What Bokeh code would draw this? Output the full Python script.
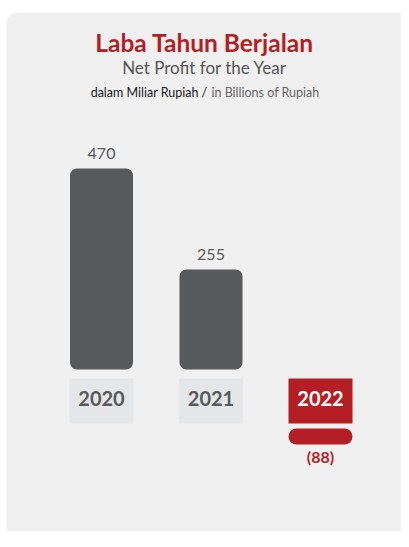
from bokeh.plotting import figure
from bokeh.models import Range1d, BoxAnnotation, Label, ColumnDataSource
from bokeh.core.properties import value
from bokeh.embed import file_html
from bokeh.resources import INLINE

# ---- data ----
YEARS = ["2020", "2021", "2022"]
PROFIT = [470, 255, -88]
TITLE = "Laba Tahun Berjalan"
SUBTITLE = "Net Profit for the Year"
UNIT_ID = "dalam Miliar Rupiah /"
UNIT_EN = "in Billions of Rupiah"

# ---- layout / style ----
W, H = 401, 531
SLOT_PX = 109.5          # px between category centres
FIRST_PX = 101           # px of first centre from left edge
Y_PX = 0.4698            # px per value unit
BAR_FLOOR = 42           # value where the bars sit
FLOOR_FROM_TOP = 369     # px of the floor from figure top
U = 1.0 / Y_PX           # value units per px
BAR_W = 63 / SLOT_PX

FONT = "Lato"
RED = "#b31f24"
DARK = "#58595b"
BOXGRAY = "#e5e6e8"
PANEL = "#f0f0f0"

x0 = -FIRST_PX / SLOT_PX
y0 = BAR_FLOOR - (H - FLOOR_FROM_TOP) * U

p = figure(width=W, height=H, output_backend="svg", toolbar_location=None,
           x_range=Range1d(x0, x0 + W / SLOT_PX),
           y_range=Range1d(y0, y0 + H * U),
           min_border=0, outline_line_color=None,
           background_fill_color="white", border_fill_color="white")
p.axis.visible = False
p.grid.visible = False


def ypx(px_below_floor):
    return BAR_FLOOR - px_below_floor * U


# panel
p.add_layout(BoxAnnotation(left=x0 + 6 / SLOT_PX, right=x0 + (W + 30) / SLOT_PX,
                           top=ypx(-(FLOOR_FROM_TOP - 12)), bottom=y0 - 20,
                           fill_color=PANEL, fill_alpha=1, line_color=None,
                           border_radius=10, level="underlay"))

pos = list(range(len(YEARS)))
pos_idx = [i for i, v in enumerate(PROFIT) if v >= 0]
neg_idx = [i for i, v in enumerate(PROFIT) if v < 0]

bars = ColumnDataSource(dict(x=[pos[i] for i in pos_idx],
                             top=[PROFIT[i] for i in pos_idx],
                             lab=[f"{PROFIT[i]:,}" for i in pos_idx]))
p.vbar(x="x", top="top", bottom=BAR_FLOOR, width=BAR_W, source=bars,
       fill_color=DARK, line_color=None, border_radius=7)
p.text(x="x", y="top", text="lab", source=bars, y_offset=-15,
       text_align="center", text_baseline="alphabetic",
       text_font=value(FONT), text_font_size="16px", text_color=DARK)

# year boxes
box_colors = [RED if v < 0 else BOXGRAY for v in PROFIT]
txt_colors = ["white" if v < 0 else DARK for v in PROFIT]
yrs = ColumnDataSource(dict(x=pos, yr=YEARS, fc=box_colors, tc=txt_colors))
p.vbar(x="x", top=ypx(9), bottom=ypx(54), width=BAR_W + 1 / SLOT_PX,
       source=yrs, fill_color="fc", line_color=None)
p.text(x="x", y=ypx(29), text="yr", source=yrs,
       text_align="center", text_baseline="middle",
       text_font=value(FONT), text_font_style="bold", text_font_size="20px",
       text_color="tc")

# negative pill + label
neg = ColumnDataSource(dict(x=[pos[i] for i in neg_idx],
                            lab=[f"({abs(PROFIT[i]):,})" for i in neg_idx]))
p.vbar(x="x", top=ypx(59), bottom=ypx(75), width=BAR_W + 1 / SLOT_PX,
       source=neg, fill_color=RED, line_color=None, border_radius=8)
p.text(x="x", y=ypx(87), text="lab", source=neg,
       text_align="center", text_baseline="middle",
       text_font=value(FONT), text_font_style="bold", text_font_size="16px",
       text_color=RED)

# titles (screen units, y from bottom)
p.add_layout(Label(x=204, y=H - 42, x_units="screen", y_units="screen",
                   text=TITLE, text_align="center", text_baseline="alphabetic",
                   text_font=FONT, text_font_style="bold",
                   text_font_size="24.5px", text_color=RED))
p.add_layout(Label(x=204, y=H - 67, x_units="screen", y_units="screen",
                   text=SUBTITLE, text_align="center", text_baseline="alphabetic",
                   text_font=FONT, text_font_size="17px", text_color="#555555"))
p.add_layout(Label(x=207, y=H - 92, x_units="screen", y_units="screen",
                   text=UNIT_ID, text_align="right", text_baseline="alphabetic",
                   text_font=FONT, text_font_size="12.5px", text_color="#1a1a1a"))
p.add_layout(Label(x=211, y=H - 92, x_units="screen", y_units="screen",
                   text=UNIT_EN, text_align="left", text_baseline="alphabetic",
                   text_font=FONT, text_font_size="12.5px", text_color="#666666"))

open("out.html", "w").write(file_html(p, INLINE))
